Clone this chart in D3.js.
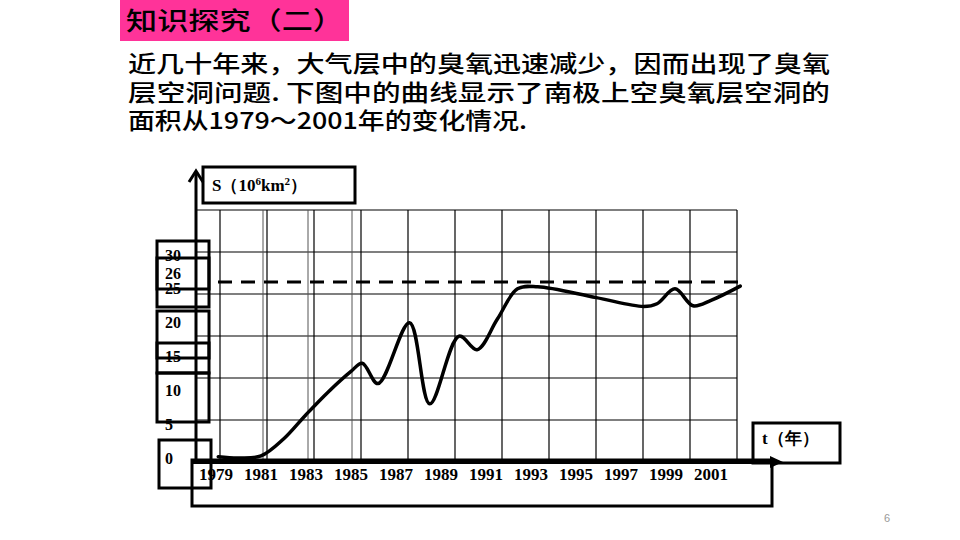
<!DOCTYPE html>
<html><head><meta charset="utf-8">
<script src="https://cdn.jsdelivr.net/npm/d3@7"></script>
<style>body{margin:0;background:#fff}svg{display:block}</style>
</head><body>
<svg id="c" width="960" height="540"></svg>
<script>
// ---- data ----
const curveYears  = [1979.1,1980,1981,1982,1983,1984,1985,1985.5,1986.2,1987.6,1988.5,1989.8,1990.6,1991.5,1992.4,1993.3,1995.9,1998,1998.6,1999.4,2000.2,2001,2002.3];
const curveValues = [0.2,0,0.3,2.8,6.4,9.8,12.8,14,11,20,8,18,16,20.5,25,25.3,23.7,22.4,22.8,25,22.5,23.3,25.4];
const refValue = 26;
const yearTicks = [1979,1981,1983,1985,1987,1989,1991,1993,1995,1997,1999,2001];
const valueTicks = [30,26,25,20,15,10,5,0];
const titleText = "知识探究（二）";
const paraLines = ["近几十年来，大气层中的臭氧迅速减少，因而出现了臭氧","层空洞问题. 下图中的曲线显示了南极上空臭氧层空洞的","面积从1979～2001年的变化情况."];

const svg = d3.select("#c");
const serif = "'Liberation Serif','Times New Roman',serif";
const cjk = "'Noto Sans CJK SC','Noto Sans',sans-serif";

// scales
const x = d3.scaleLinear().domain([1979, 2003]).range([216, 756]);
const y = d3.scaleLinear().domain([0, 30]).range([458, 255]);
const gx = d3.scaleLinear().domain([0, 11]).range([220, 737]);
const gy = d3.scaleLinear().domain([0, 6]).range([462, 210]);

// title
svg.append("rect").attr("x",120).attr("y",0).attr("width",229).attr("height",41).attr("fill","#ff3399");
svg.append("text").attr("x",126).attr("y",30).attr("font-family",cjk).attr("font-weight",500)
  .attr("font-size",25).attr("textLength",218).attr("lengthAdjust","spacingAndGlyphs").attr("fill","#000").text(titleText);

// paragraph (one wrapped text block)
const paraW = [702,702,399];
const para = svg.append("text").attr("font-family",cjk).attr("font-weight",500).attr("font-size",23);
paraLines.forEach((t,i)=>{
  para.append("tspan").attr("x",128).attr("y",72+i*28.5)
    .attr("textLength",paraW[i]).attr("lengthAdjust","spacingAndGlyphs").text(t);
});

// grid
const grid = svg.append("g").attr("stroke","#000").attr("stroke-width",1.2);
d3.range(0,12).forEach(i=>{
  grid.append("line").attr("x1",gx(i)).attr("x2",gx(i)).attr("y1",gy(6)).attr("y2",gy(0));
});
d3.range(1,7).forEach(j=>{
  grid.append("line").attr("x1",197).attr("x2",gx(11)).attr("y1",gy(j)).attr("y2",gy(j));
});
// doubled faint lines
[263,308,352].forEach(px=>{
  svg.append("line").attr("x1",px).attr("x2",px).attr("y1",gy(6)).attr("y2",gy(0))
    .attr("stroke","#555").attr("stroke-width",1);
});

// dashed reference line
svg.append("line").attr("x1",218).attr("x2",741).attr("y1",y(refValue)).attr("y2",y(refValue))
  .attr("stroke","#000").attr("stroke-width",3).attr("stroke-dasharray","14,9");

// curve
const line = d3.line().x((d,i)=>x(curveYears[i])).y(d=>y(d)).curve(d3.curveCatmullRom.alpha(0.5));
svg.append("path").datum(curveValues).attr("d",line).attr("fill","none")
  .attr("stroke","#000").attr("stroke-width",3.5).attr("stroke-linejoin","round").attr("stroke-linecap","round");

// boxes
const boxes = [[157,241,52,48],[157,258,52,49],[157,311,52,47],[157,343,52,30],[157,373,52,49],[159,440,52,48],[192,460,580,46],[203,167,152,36],[753,423,87,40]];
svg.append("g").selectAll("rect").data(boxes).join("rect")
  .attr("x",d=>d[0]).attr("y",d=>d[1]).attr("width",d=>d[2]).attr("height",d=>d[3])
  .attr("fill","none").attr("stroke","#000").attr("stroke-width",3);

// y axis
svg.append("line").attr("x1",196).attr("x2",196).attr("y1",172).attr("y2",463).attr("stroke","#000").attr("stroke-width",3);
svg.append("path").attr("d","M189,182 L196,171 L203,182").attr("fill","none").attr("stroke","#000").attr("stroke-width",3);
// x axis
svg.append("line").attr("x1",192).attr("x2",772).attr("y1",462).attr("y2",462).attr("stroke","#000").attr("stroke-width",4);
svg.append("path").attr("d","M770,456 L783,462 L770,468 Z").attr("fill","#000");

// y tick labels
svg.append("g").selectAll("text").data(valueTicks).join("text")
  .attr("x",165).attr("y",d=>y(d)+(d===26?-9:0)).attr("dy","0.35em")
  .attr("font-family",serif).attr("font-weight","bold").attr("font-size",16).text(d=>d);

// year labels
svg.append("g").selectAll("text").data(yearTicks).join("text")
  .attr("x",d=>x(d)).attr("y",480).attr("text-anchor","middle")
  .attr("font-family",serif).attr("font-weight","bold").attr("font-size",17).text(d=>d);

// axis titles
const st = svg.append("text").attr("x",212).attr("y",191).attr("font-family",serif).attr("font-weight","bold").attr("font-size",17);
st.append("tspan").text("S（10");
st.append("tspan").attr("font-size",11).attr("dy",-6).text("6");
st.append("tspan").attr("dy",6).text("km");
st.append("tspan").attr("font-size",11).attr("dy",-6).text("2");
st.append("tspan").attr("dy",6).text("）");
svg.append("text").attr("x",762).attr("y",444).attr("font-family",serif).attr("font-weight","bold").attr("font-size",17).text("t（年）");

// page number
svg.append("text").attr("x",884).attr("y",522).attr("font-family","'Liberation Sans',sans-serif").attr("font-size",11).attr("fill","#999").text("6");
</script>
</body></html>
